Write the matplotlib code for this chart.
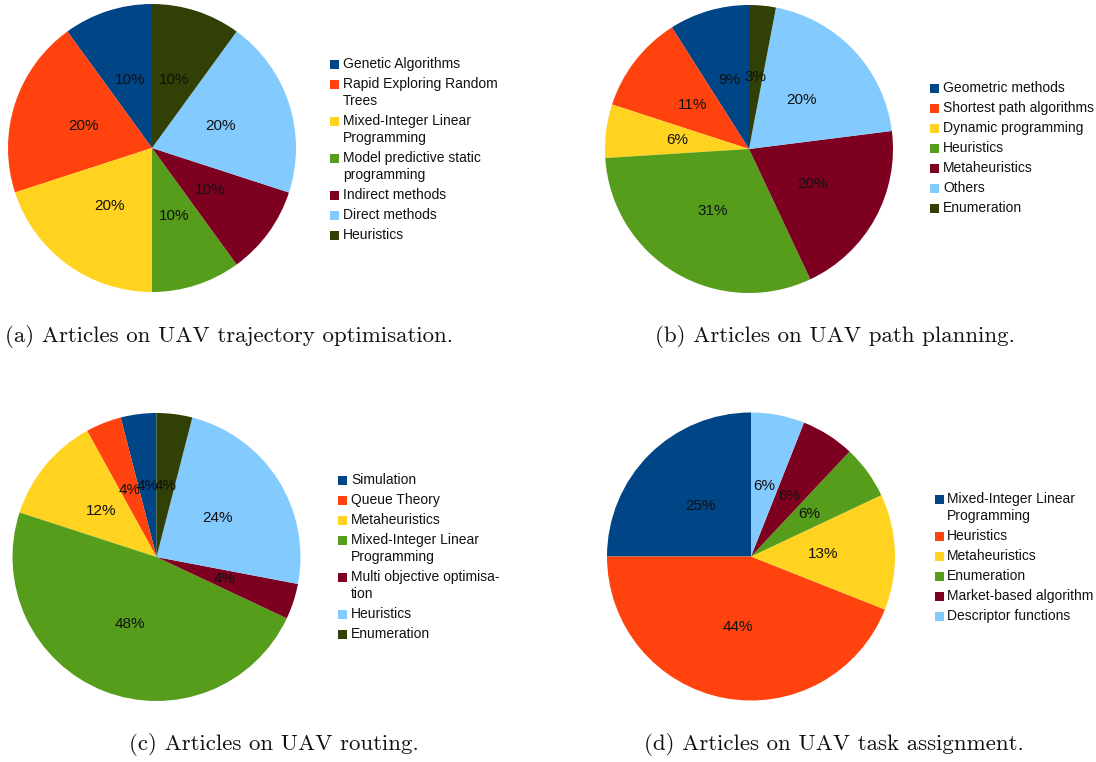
import matplotlib
matplotlib.use("Agg")
import matplotlib.pyplot as plt
from matplotlib.patches import Rectangle

W, H = 1096, 762

# LibreOffice default palette
colors = ['#004586', '#ff420e', '#ffd320', '#579d1c', '#7e0021', '#83caff', '#314004']

# (a) trajectory optimisation
traj_labels = ['Genetic Algorithms', 'Rapid Exploring Random\nTrees',
               'Mixed-Integer Linear\nProgramming', 'Model predictive static\nprogramming',
               'Indirect methods', 'Direct methods', 'Heuristics']
traj_values = [10, 20, 20, 10, 10, 20, 10]

# (b) path planning
path_labels = ['Geometric methods', 'Shortest path algorithms', 'Dynamic programming',
               'Heuristics', 'Metaheuristics', 'Others', 'Enumeration']
path_values = [9, 11, 6, 31, 20, 20, 3]

# (c) routing
rout_labels = ['Simulation', 'Queue Theory', 'Metaheuristics',
               'Mixed-Integer Linear\nProgramming', 'Multi objective optimisa-\ntion',
               'Heuristics', 'Enumeration']
rout_values = [4, 4, 12, 48, 4, 24, 4]

# (d) task assignment
task_labels = ['Mixed-Integer Linear\nProgramming', 'Heuristics', 'Metaheuristics',
               'Enumeration', 'Market-based algorithm', 'Descriptor functions']
task_values = [25, 44, 13, 6, 6, 6]

captions = ['(a) Articles on UAV trajectory optimisation.',
            '(b) Articles on UAV path planning.',
            '(c) Articles on UAV routing.',
            '(d) Articles on UAV task assignment.']

# layout in pixels: pie center, radius, legend (first y, square x, text x), caption center
panels = [
    dict(vals=traj_values, labs=traj_labels, c=(152, 148), r=144, leg=(64, 330, 343), cap=(229, 337)),
    dict(vals=path_values, labs=path_labels, c=(749, 149), r=144, leg=(88, 930, 943), cap=(835, 337)),
    dict(vals=rout_values, labs=rout_labels, c=(156.5, 557), r=144, leg=(480, 338, 351), cap=(274, 745)),
    dict(vals=task_values, labs=task_labels, c=(751, 556.5), r=144, leg=(499, 935, 947), cap=(834, 745)),
]

fig = plt.figure(figsize=(W / 100, H / 100), dpi=100)
fig.patch.set_facecolor('white')

sans = ['Liberation Sans', 'DejaVu Sans']

for i, p in enumerate(panels):
    cx, cy = p['c']
    r = p['r']
    ax = fig.add_axes([(cx - r) / W, (H - (cy + r)) / H, 2 * r / W, 2 * r / H])
    n = len(p['vals'])
    wedges, texts, autotexts = ax.pie(p['vals'], colors=colors[:n], startangle=90,
                                      counterclock=True, autopct='%.0f%%', pctdistance=0.5,
                                      wedgeprops=dict(linewidth=0),
                                      textprops=dict(fontsize=11, family=sans, color='#111111'))
    ax.set_xlim(-1, 1)
    ax.set_ylim(-1, 1)
    ax.set_aspect('equal')
    ax.axis('off')

    # legend
    y, sx, tx = p['leg']
    for lab, col in zip(p['labs'], colors):
        fig.add_artist(Rectangle((sx / W, (H - y - 4.5) / H), 9 / W, 9 / H,
                                 transform=fig.transFigure, facecolor=col, edgecolor='none'))
        lines = lab.split('\n')
        for k, line in enumerate(lines):
            fig.text(tx / W, (H - (y + 17 * k)) / H, line, fontsize=10, family=sans,
                     va='center', ha='left', color='#111111')
        y += 20 + 17 * (len(lines) - 1)

    # caption
    capx, capy = p['cap']
    fig.text(capx / W, (H - capy) / H, captions[i], fontsize=16.5, family='cmr10',
             ha='center', va='center', color='#111111')

fig.savefig('out.png', dpi=100)
